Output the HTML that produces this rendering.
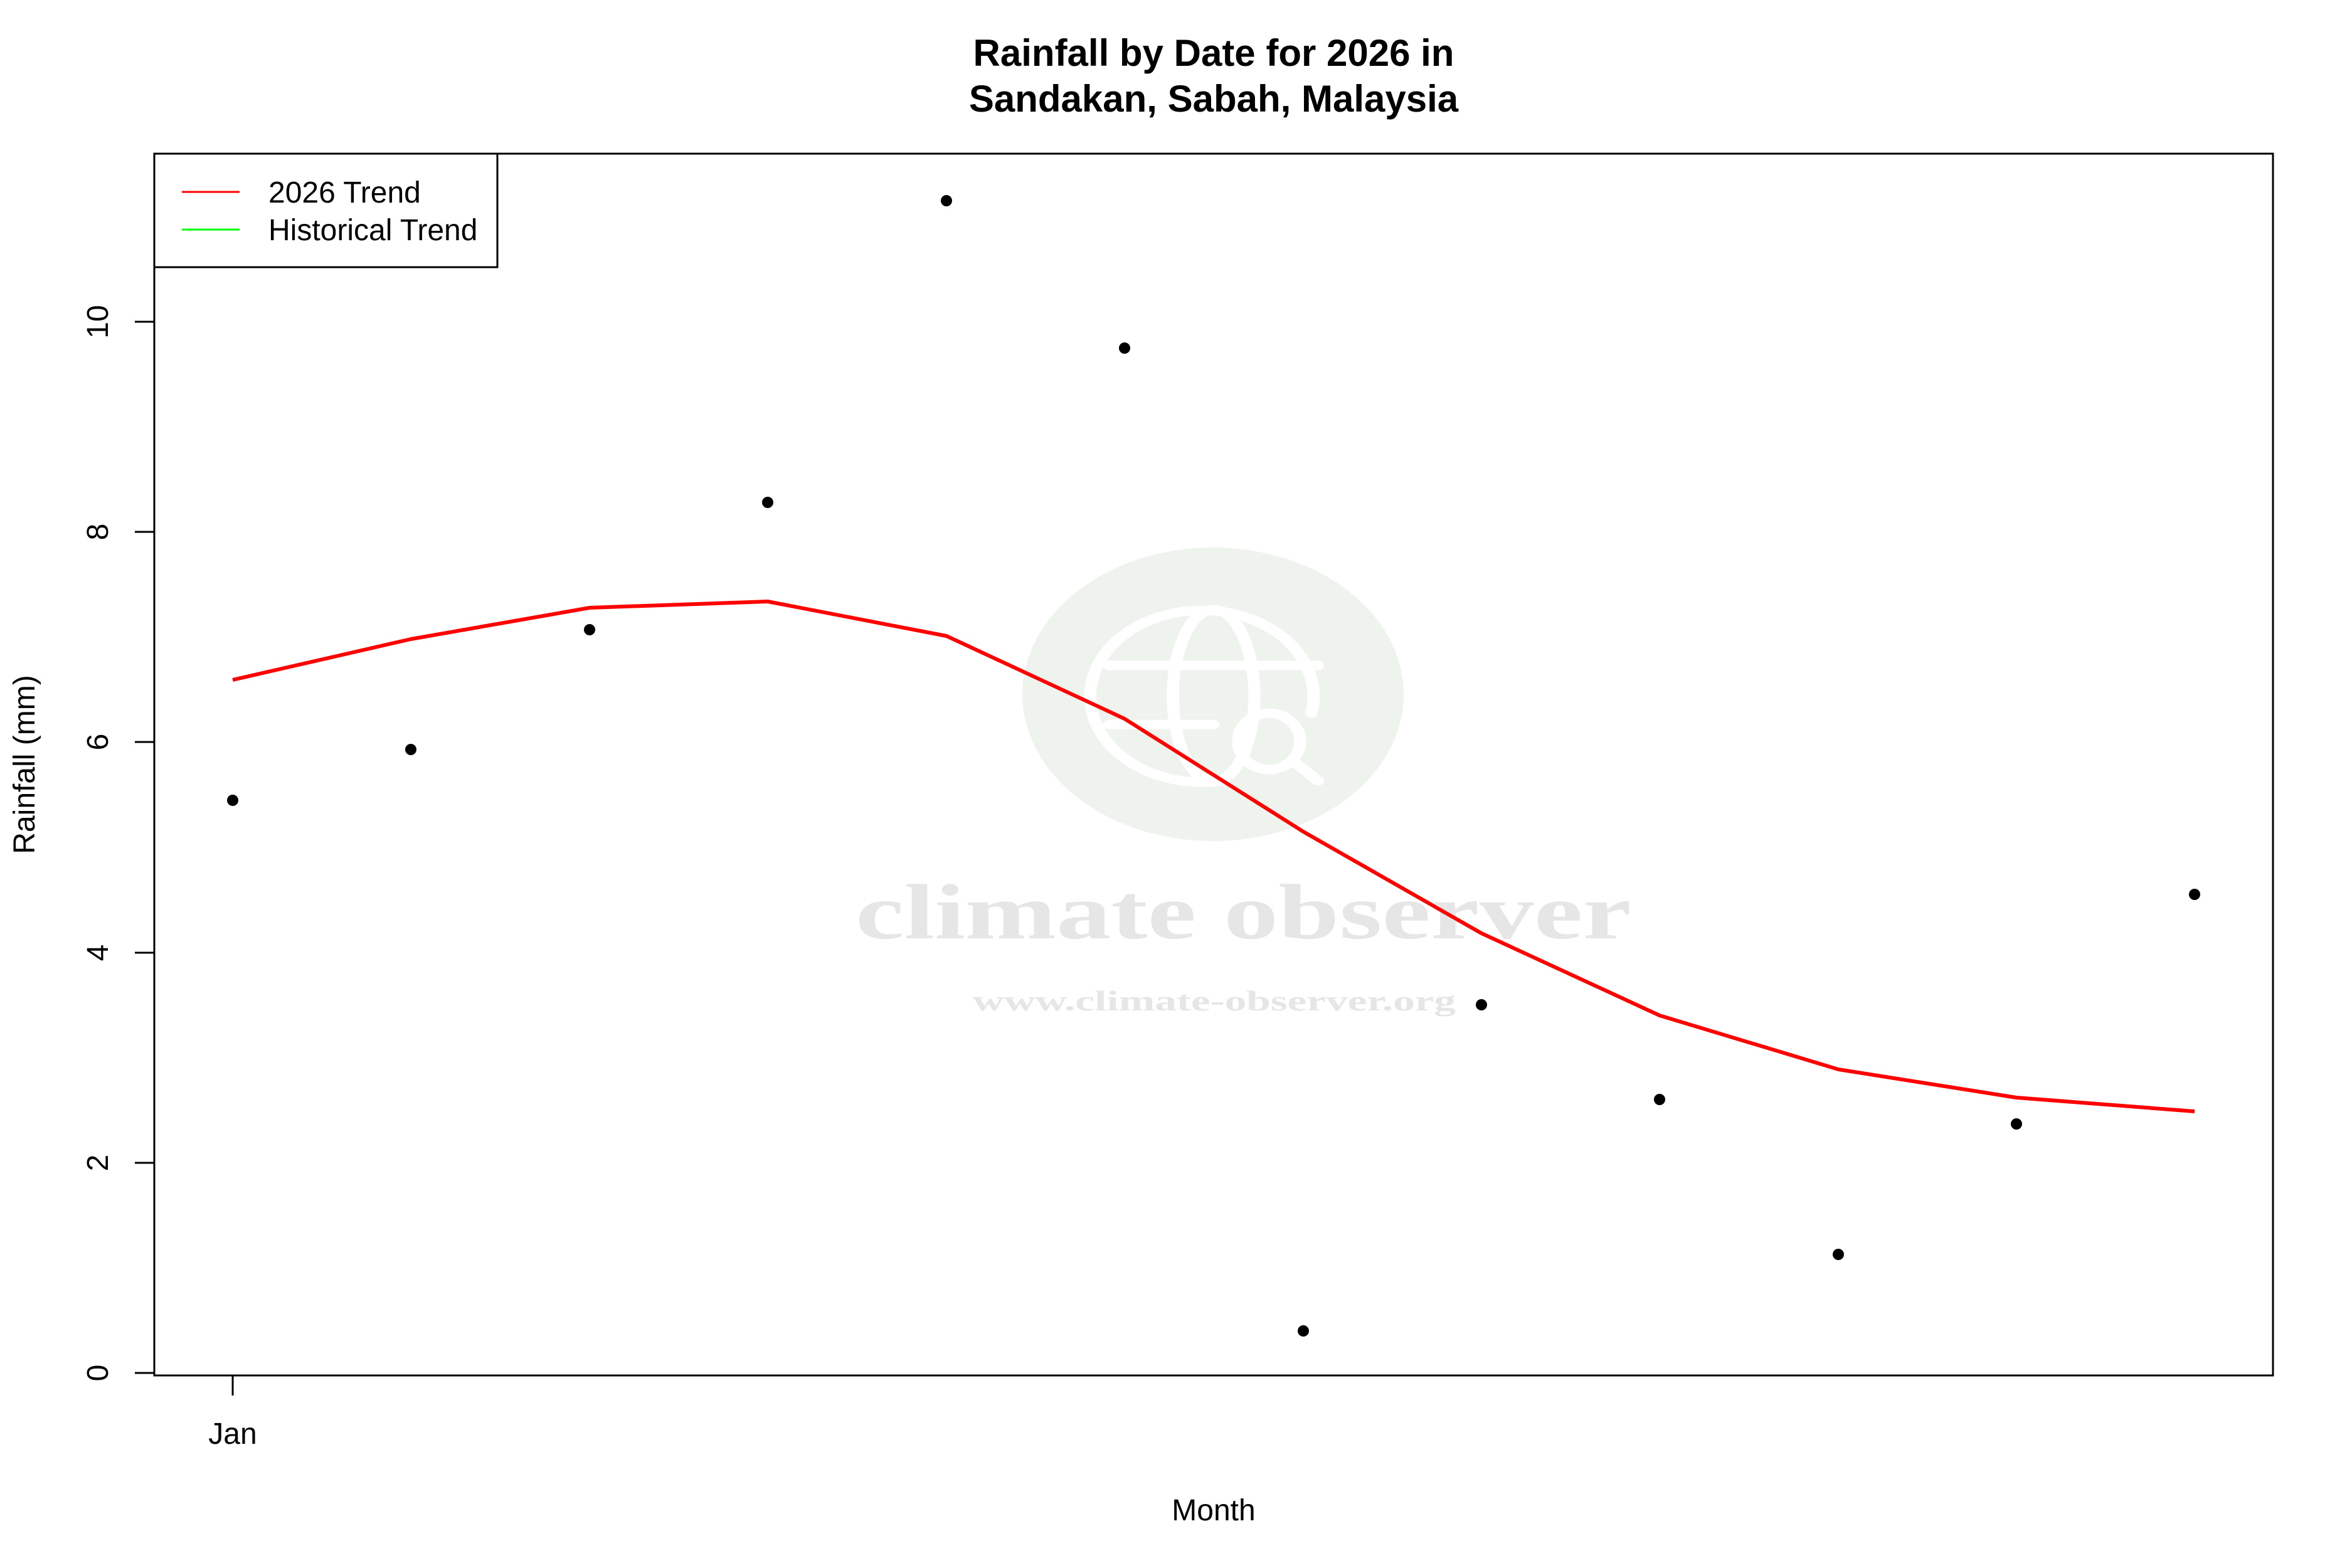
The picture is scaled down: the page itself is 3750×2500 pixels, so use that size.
<!DOCTYPE html>
<html><head><meta charset="utf-8"><style>html,body{margin:0;padding:0;background:#fff}svg{display:block}</style></head>
<body>
<svg width="3750" height="2500" viewBox="0 0 3750 2500" xmlns="http://www.w3.org/2000/svg" font-family="'Liberation Sans', Arial, sans-serif">
<rect width="3750" height="2500" fill="#fff"/>
<!-- watermark -->
<ellipse cx="1934" cy="1107" rx="304" ry="234" fill="#eef3ee"/>
<g transform="translate(1935,1109) scale(1.3,1)" fill="none" stroke="#fff" stroke-width="15" stroke-linecap="round">
  <path d="M 120 28 A 137 137 0 1 0 10 136"/>
  <ellipse cx="0" cy="0" rx="50" ry="137"/>
  <line x1="-128" y1="-48" x2="128" y2="-48"/>
  <line x1="-128" y1="46" x2="0" y2="46"/>
  <ellipse cx="68" cy="73" rx="38" ry="45"/>
  <line x1="98" y1="105" x2="128" y2="136"/>
</g>
<text x="1364" y="1496" textLength="1237" lengthAdjust="spacingAndGlyphs" font-family="'Liberation Serif', serif" font-weight="bold" font-size="125" fill="#e6e6e6">climate observer</text>
<text x="1551" y="1611" textLength="770" lengthAdjust="spacingAndGlyphs" font-family="'Liberation Serif', serif" font-weight="bold" font-size="46" fill="#e6e6e6">www.climate-observer.org</text>
<!-- title -->
<text x="1935" y="105" text-anchor="middle" font-weight="bold" font-size="60">Rainfall by Date for 2026 in</text>
<text x="1935" y="178" text-anchor="middle" font-weight="bold" font-size="60">Sandakan, Sabah, Malaysia</text>
<!-- trend -->
<polyline fill="none" stroke="#ff0000" stroke-width="6" stroke-linejoin="round" points="371,1084 655,1019 940,969 1224,959 1509,1014 1793,1146 2078,1326 2362,1488 2646,1619 2931,1705 3215,1750 3499,1772"/>
<!-- points -->
<g fill="#000">
<circle cx="371" cy="1276" r="9"/><circle cx="655" cy="1195" r="9"/><circle cx="940" cy="1004" r="9"/>
<circle cx="1224" cy="801" r="9"/><circle cx="1509" cy="320" r="9"/><circle cx="1793" cy="555" r="9"/>
<circle cx="2078" cy="2122" r="9"/><circle cx="2362" cy="1602" r="9"/><circle cx="2646" cy="1753" r="9"/>
<circle cx="2931" cy="2000" r="9"/><circle cx="3215" cy="1792" r="9"/><circle cx="3499" cy="1426" r="9"/>
</g>
<!-- plot frame -->
<rect x="246" y="245" width="3378" height="1948" fill="none" stroke="#000" stroke-width="3"/>
<!-- legend -->
<rect x="246" y="245" width="547" height="181" fill="#fff" stroke="#000" stroke-width="3"/>
<line x1="290" y1="306" x2="382" y2="306" stroke="#ff0000" stroke-width="3"/>
<line x1="290" y1="366" x2="382" y2="366" stroke="#00ff00" stroke-width="3"/>
<text x="428" y="323" font-size="48">2026 Trend</text>
<text x="428" y="383" font-size="48">Historical Trend</text>
<!-- y axis -->
<g stroke="#000" stroke-width="3">
<line x1="215" y1="2189" x2="246" y2="2189"/><line x1="215" y1="1854" x2="246" y2="1854"/>
<line x1="215" y1="1519" x2="246" y2="1519"/><line x1="215" y1="1183" x2="246" y2="1183"/>
<line x1="215" y1="848" x2="246" y2="848"/><line x1="215" y1="513" x2="246" y2="513"/>
<line x1="371" y1="2194" x2="371" y2="2225"/>
</g>
<g font-size="48" text-anchor="middle">
<text transform="translate(172,2189) rotate(-90)">0</text>
<text transform="translate(172,1854) rotate(-90)">2</text>
<text transform="translate(172,1519) rotate(-90)">4</text>
<text transform="translate(172,1183) rotate(-90)">6</text>
<text transform="translate(172,848) rotate(-90)">8</text>
<text transform="translate(172,513) rotate(-90)">10</text>
<text x="371" y="2302">Jan</text>
<text x="1935" y="2424">Month</text>
<text transform="translate(55,1219) rotate(-90)">Rainfall (mm)</text>
</g>
</svg>
</body></html>
